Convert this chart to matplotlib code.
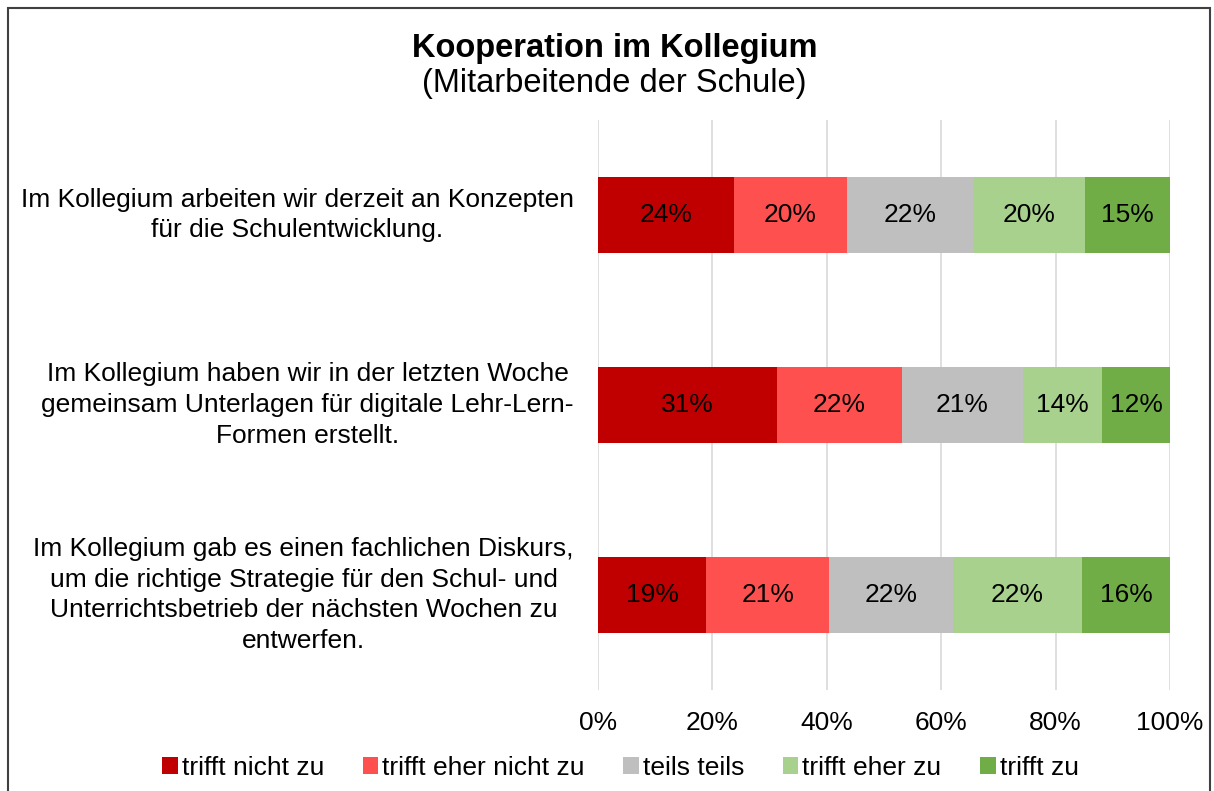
import matplotlib.pyplot as plt
from matplotlib.patches import Rectangle, Patch

plt.rcParams['font.family'] = ['Liberation Sans', 'DejaVu Sans']

# data (percent, rows top to bottom)
items = [
    "Im Kollegium arbeiten wir derzeit an Konzepten\nfür die Schulentwicklung.",
    "Im Kollegium haben wir in der letzten Woche\ngemeinsam Unterlagen für digitale Lehr-Lern-\nFormen erstellt.",
    "Im Kollegium gab es einen fachlichen Diskurs,\num die richtige Strategie für den Schul- und\nUnterrichtsbetrieb der nächsten Wochen zu\nentwerfen.",
]
categories = ["trifft nicht zu", "trifft eher nicht zu", "teils teils", "trifft eher zu", "trifft zu"]
trifft_nicht = [23.8, 31.3, 18.9]
eher_nicht = [19.7, 21.8, 21.5]
teils = [22.1, 21.2, 21.7]
eher_zu = [19.5, 13.8, 22.5]
trifft_zu = [14.9, 11.9, 15.4]
labels = [
    ["24%", "31%", "19%"],
    ["20%", "22%", "21%"],
    ["22%", "21%", "22%"],
    ["20%", "14%", "22%"],
    ["15%", "12%", "16%"],
]
xticks = [0, 20, 40, 60, 80, 100]

colors = ["#c00000", "#ff5050", "#bfbfbf", "#a9d18e", "#70ad47"]
series = [trifft_nicht, eher_nicht, teils, eher_zu, trifft_zu]

fs = 19

fig = plt.figure(figsize=(12.14, 7.91), dpi=100)
ax = fig.add_axes([598 / 1214, 101 / 791, 572 / 1214, 570 / 791])

ypos = [2, 1, 0]
left = [0, 0, 0]
for vals, col, lab in zip(series, colors, labels):
    ax.barh(ypos, vals, left=left, height=0.4, color=col, zorder=3)
    for y, l, v, t in zip(ypos, left, vals, lab):
        ax.text(l + v / 2, y, t, ha='center', va='center', fontsize=fs, zorder=4)
    left = [a + b for a, b in zip(left, vals)]

ax.set_xlim(0, 100)
ax.set_ylim(-0.5, 2.5)
ax.set_xticks(xticks)
ax.set_xticklabels([f"{t}%" for t in xticks], fontsize=fs)
ax.tick_params(axis='x', length=0, pad=15)
ax.set_yticks([])
ax.grid(axis='x', color='#d9d9d9', linewidth=1.2, zorder=0)
for s in ax.spines.values():
    s.set_visible(False)

for y, txt in zip(ypos, items):
    ax.text(-4.2, y, txt, ha='right', va='center', multialignment='center',
            fontsize=fs, linespacing=1.35)

fig.text(0.506, 0.939, "Kooperation im Kollegium", ha='center', va='center',
         fontsize=23.5, fontweight='bold')
fig.text(0.506, 0.895, "(Mitarbeitende der Schule)", ha='center', va='center', fontsize=23.5)

handles = [Patch(facecolor=c, edgecolor='none') for c in colors]
fig.legend(handles, categories, loc='center', bbox_to_anchor=(0.511, 0.029), ncol=5,
           frameon=False, fontsize=19, handlelength=0.6, handleheight=0.6,
           handletextpad=0.15, columnspacing=1.45)

fig.patches.append(Rectangle((8 / 1214, -0.1), 1202 / 1214, 1.1 - 8 / 791,
                             transform=fig.transFigure, fill=False,
                             edgecolor='#404040', linewidth=1.5))

fig.savefig("out.png", dpi=100)
